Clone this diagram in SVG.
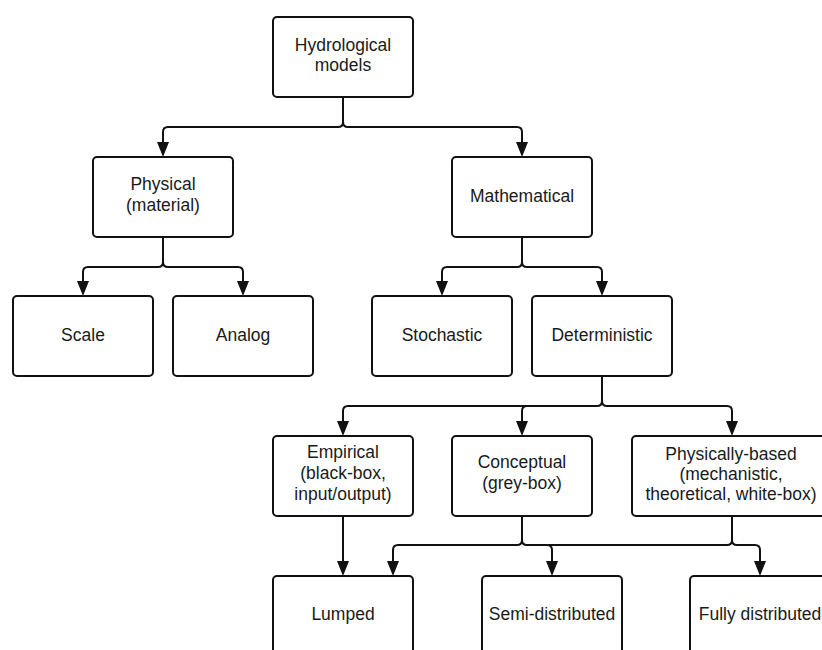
<svg xmlns="http://www.w3.org/2000/svg" width="822" height="650" viewBox="0 0 822 650">
  <defs>
    <marker id="arr" markerUnits="userSpaceOnUse" markerWidth="15" markerHeight="12" refX="2" refY="6" orient="auto" overflow="visible">
      <path d="M0,0 L15,6 L0,12 Z" fill="#111"/>
    </marker>
    <style>
      .box { fill: #fff; stroke: #111; stroke-width: 2; }
      .lbl { font-family: "Liberation Sans", Arial, sans-serif; font-size: 17.5px; fill: #1a1a1a; text-anchor: middle; }
      .con { fill: none; stroke: #111; stroke-width: 2; }
      .arr { marker-end: url(#arr); }
    </style>
  </defs>
  <rect width="822" height="650" fill="#fff"/>

  <g id="connectors">
    <!-- Hydrological -> Physical / Mathematical -->
    <path class="con arr" d="M343,97 V122 Q343,127 338,127 H168 Q163,127 163,132 V144"/>
    <path class="con arr" d="M343,97 V122 Q343,127 348,127 H517 Q522,127 522,132 V144"/>
    <!-- Physical -> Scale / Analog -->
    <path class="con arr" d="M163,237 V262 Q163,267 158,267 H88 Q83,267 83,272 V283"/>
    <path class="con arr" d="M163,237 V262 Q163,267 168,267 H238 Q243,267 243,272 V283"/>
    <!-- Mathematical -> Stochastic / Deterministic -->
    <path class="con arr" d="M522,237 V262 Q522,267 517,267 H447 Q442,267 442,272 V283"/>
    <path class="con arr" d="M522,237 V262 Q522,267 527,267 H597 Q602,267 602,272 V283"/>
    <!-- Deterministic -> Empirical / Conceptual / Physically-based -->
    <path class="con arr" d="M602,376 V401 Q602,406 597,406 H348 Q343,406 343,411 V423"/>
    <path class="con arr" d="M597,406 H527 Q522,406 522,411 V423"/>
    <path class="con arr" d="M602,376 V401 Q602,406 607,406 H727 Q732,406 732,411 V423"/>
    <!-- Empirical -> Lumped -->
    <path class="con arr" d="M343,516 V563"/>
    <!-- Conceptual -> Lumped / Semi-distributed -->
    <path class="con arr" d="M522,516 V540 Q522,545 517,545 H398 Q393,545 393,550 V563"/>
    <path class="con arr" d="M522,516 V540 Q522,545 527,545 H547 Q552,545 552,550 V563"/>
    <!-- Physically-based -> Semi-distributed / Fully distributed -->
    <path class="con" d="M732,516 V540 Q732,545 727,545 H548"/>
    <path class="con arr" d="M732,516 V540 Q732,545 737,545 H755 Q760,545 760,550 V563"/>
  </g>

  <g id="hydrological">
    <rect class="box" x="273" y="17" width="140" height="80" rx="4"/>
    <text class="lbl" x="343" y="51">Hydrological</text>
    <text class="lbl" x="343" y="71">models</text>
  </g>
  <g id="physical">
    <rect class="box" x="93" y="157" width="140" height="80" rx="4"/>
    <text class="lbl" x="163" y="190">Physical</text>
    <text class="lbl" x="163" y="211">(material)</text>
  </g>
  <g id="mathematical">
    <rect class="box" x="452" y="157" width="140" height="80" rx="4"/>
    <text class="lbl" x="522" y="202">Mathematical</text>
  </g>
  <g id="scale">
    <rect class="box" x="13" y="296" width="140" height="80" rx="4"/>
    <text class="lbl" x="83" y="341">Scale</text>
  </g>
  <g id="analog">
    <rect class="box" x="173" y="296" width="140" height="80" rx="4"/>
    <text class="lbl" x="243" y="341">Analog</text>
  </g>
  <g id="stochastic">
    <rect class="box" x="372" y="296" width="140" height="80" rx="4"/>
    <text class="lbl" x="442" y="341">Stochastic</text>
  </g>
  <g id="deterministic">
    <rect class="box" x="532" y="296" width="140" height="80" rx="4"/>
    <text class="lbl" x="602" y="341">Deterministic</text>
  </g>
  <g id="empirical">
    <rect class="box" x="273" y="436" width="140" height="80" rx="4"/>
    <text class="lbl" x="343" y="458">Empirical</text>
    <text class="lbl" x="343" y="479">(black-box,</text>
    <text class="lbl" x="343" y="500">input/output)</text>
  </g>
  <g id="conceptual">
    <rect class="box" x="452" y="436" width="140" height="80" rx="4"/>
    <text class="lbl" x="522" y="468">Conceptual</text>
    <text class="lbl" x="522" y="489">(grey-box)</text>
  </g>
  <g id="physically-based">
    <rect class="box" x="632" y="436" width="200" height="80" rx="4"/>
    <text class="lbl" x="731" y="460">Physically-based</text>
    <text class="lbl" x="731" y="480">(mechanistic,</text>
    <text class="lbl" x="731" y="500">theoretical, white-box)</text>
  </g>
  <g id="lumped">
    <rect class="box" x="273" y="576" width="140" height="80" rx="4"/>
    <text class="lbl" x="343" y="620">Lumped</text>
  </g>
  <g id="semi-distributed">
    <rect class="box" x="482" y="576" width="140" height="80" rx="4"/>
    <text class="lbl" x="552" y="620">Semi-distributed</text>
  </g>
  <g id="fully-distributed">
    <rect class="box" x="690" y="576" width="140" height="80" rx="4"/>
    <text class="lbl" x="760" y="620">Fully distributed</text>
  </g>
</svg>
